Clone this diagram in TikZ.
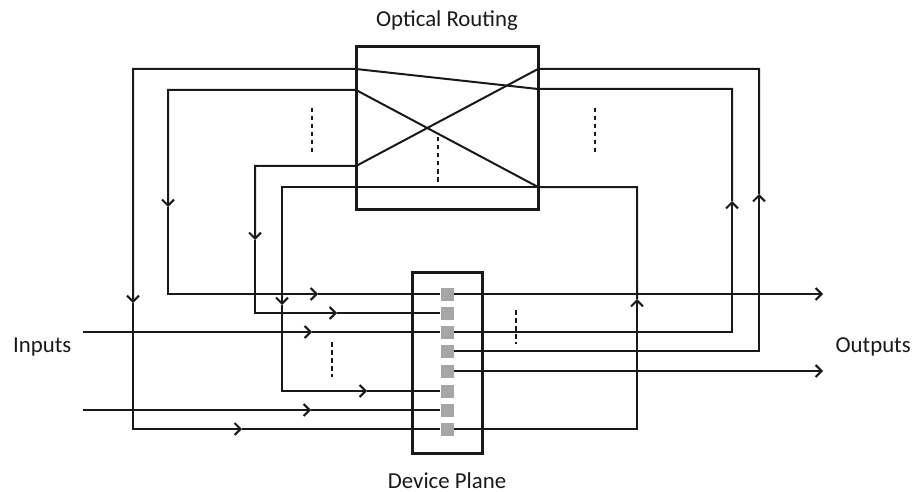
\documentclass[tikz,border=0pt]{standalone}
\usepackage{fontspec}
\setmainfont{Carlito}
\usetikzlibrary{arrows.meta,positioning}
\definecolor{ink}{RGB}{25,25,25}
\definecolor{padfill}{RGB}{166,166,166}
\tikzset{
  wire/.style={draw=ink,line width=2pt},
  flow/.style={wire,-{Straight Barb[length=6pt,width=12pt]}},
  frame/.style={draw=ink,line width=3pt,inner sep=0pt},
  pad/.style={fill=padfill,minimum size=13pt,inner sep=0pt},
  gap/.style={draw=ink,line width=2pt,dash pattern=on 4.5pt off 3.5pt},
  lbl/.style={font=\fontsize{22.8}{27}\selectfont,inner sep=0pt,text=ink},
}

\begin{document}
\begin{tikzpicture}[x=1pt,y=-1pt]
  \useasboundingbox (0,0) rectangle (913,492);
  % boxes and labels
  \node[frame,minimum width=182pt,minimum height=162pt] (router) at (447,128) {};
  \node[frame,minimum width=70pt,minimum height=181pt] (device) at (447,362.5) {};
  \node[lbl,anchor=base] (routerlbl) at (447,27) {Optical Routing};
  \node[lbl,anchor=base] (devicelbl) at (447,488) {Device Plane};
  \node[lbl,anchor=base west] (inlbl) at (13,352.5) {Inputs};
  \node[lbl,anchor=base east] (outlbl) at (911,352.5) {Outputs};
  \foreach \i/\y in {1/294,2/313,3/332,4/351,5/371,6/391,7/410,8/429}
    \node[pad] (pad\i) at (447,\y) {};

  % router ports
  \coordinate (rL1) at (356,69);
  \coordinate (rL2) at (356,90);
  \coordinate (rL3) at (356,166);
  \coordinate (rL4) at (356,187);
  \coordinate (rR1) at (538,69);
  \coordinate (rR2) at (538,89);
  \coordinate (rR4) at (538,187);
  % rails
  \coordinate (lA) at (133,0);
  \coordinate (lB) at (168,0);
  \coordinate (lC) at (255,0);
  \coordinate (lD) at (282,0);
  \coordinate (rC) at (637,0);
  \coordinate (rA) at (732,0);
  \coordinate (rB) at (759,0);
  % arrow tips
  \coordinate (a1) at (732,201);
  \coordinate (a2) at (133,303);
  \coordinate (a3) at (242,0 |- pad8);
  \coordinate (a4) at (637,299);
  \coordinate (a5) at (168,207);
  \coordinate (a6) at (318,0 |- pad1);
  \coordinate (a7) at (759,194);
  \coordinate (a8) at (255,240);
  \coordinate (a9) at (337,0 |- pad2);
  \coordinate (a10) at (282,305);
  \coordinate (a11) at (367,0 |- pad6);
  \coordinate (a12) at (312,0 |- pad3);
  \coordinate (a13) at (311,0 |- pad7);
  \coordinate (in1) at (83,0 |- pad3);
  \coordinate (in2) at (83,0 |- pad7);
  \coordinate (out1) at (823,0 |- pad1);
  \coordinate (out2) at (823,0 |- pad5);

  % pad 3 -> outer loop -> pad 8
  \draw[flow] (pad3.east) -- (pad3 -| rA) -- (a1);
  \draw[flow] (a1) -- (rA |- rR2) -- (rR2) -- (rL1) -- (lA |- rL1) -- (a2);
  \draw[flow] (a2) -- (lA |- pad8) -- (a3);
  \draw[wire] (a3) -- (pad8.west);
  % pad 8 -> pad 1
  \draw[flow] (pad8.east) -- (rC |- pad8) -- (a4);
  \draw[flow] (a4) -- (rC |- rR4) -- (rR4) -- (rL2) -- (lB |- rL2) -- (a5);
  \draw[flow] (a5) -- (lB |- pad1) -- (a6);
  \draw[wire] (a6) -- (pad1.west);
  % pad 4 -> pad 2
  \draw[flow] (pad4.east) -- (rB |- pad4) -- (a7);
  \draw[flow] (a7) -- (rB |- rR1) -- (rR1) -- (rL3) -- (lC |- rL3) -- (a8);
  \draw[flow] (a8) -- (lC |- pad2) -- (a9);
  \draw[wire] (a9) -- (pad2.west);
  % straight through -> pad 6
  \draw[flow] (rR4) -- (rL4) -- (lD |- rL4) -- (a10);
  \draw[flow] (a10) -- (lD |- pad6) -- (a11);
  \draw[wire] (a11) -- (pad6.west);
  % inputs and outputs
  \draw[flow] (in1) -- (a12);
  \draw[wire] (a12) -- (pad3.west);
  \draw[flow] (in2) -- (a13);
  \draw[wire] (a13) -- (pad7.west);
  \draw[flow] (pad1.east) -- (out1);
  \draw[flow] (pad5.east) -- (out2);

  % more channels
  \draw[gap] (312,108) -- (312,153);
  \draw[gap] (438,137) -- (438,184);
  \draw[gap] (595,108) -- (595,153);
  \draw[gap] (332,342) -- (332,377);
  \draw[gap] (516,310) -- (516,344);
\end{tikzpicture}
\end{document}
